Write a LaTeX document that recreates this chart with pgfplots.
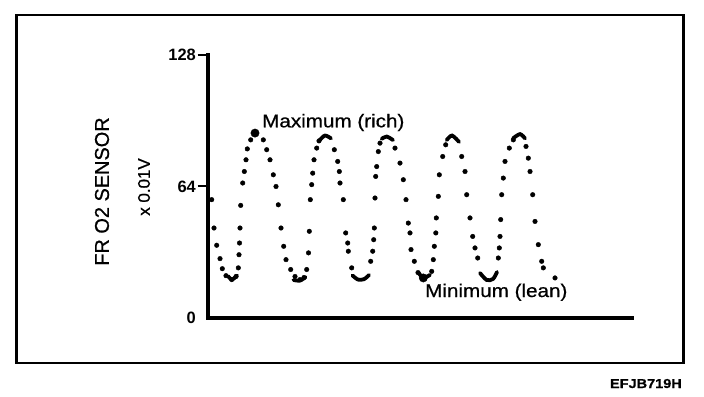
\documentclass[border=0pt]{standalone}
\usepackage{fontspec}
\setmainfont{Liberation Sans}
\newfontfamily\widefont[FakeStretch=1.12, FakeBold=0.8]{Liberation Sans}
\newfontfamily\heavyfont[FakeBold=0.8]{Liberation Sans}
\usepackage{pgfplots}
\pgfplotsset{compat=1.18}
\begin{document}
\begin{tikzpicture}[x=1bp,y=1bp]
\path (0,0) rectangle (704,396);
\draw[line width=2.5bp] (16.5,381) rectangle (683.5,33);
\begin{axis}[
  at={(207.5bp,78bp)}, anchor=south west,
  scale only axis, width=424.5bp, height=263bp,
  xmin=0, xmax=424.5, ymin=0, ymax=128,
  axis lines*=left,
  axis line style={line width=4bp, line cap=rect, -},
  xtick=\empty,
  ytick={64,128},
  extra y ticks={0},
  extra y tick style={major tick length=0pt, yticklabel style={xshift=-10bp}},
  tick align=outside, major tick length=10bp,
  ytick pos=left,
  tick style={line width=2bp, black},
  yticklabel style={font=\bfseries\fontsize{16.5}{16.5}\selectfont, inner sep=1.5bp},
  /pgf/number format/assume math mode=true,
  clip=false,
]
% dotted trace
\addplot[only marks, mark=*, mark size=2.3bp, black] coordinates {
(4.2,57.6) (6.5,43.8) (9.2,35.4) (12.5,28.9) (14.8,24.0) (18.5,20.6) (24.2,18.7)
(28.5,20.2) (30.8,24.4) (31.5,30.8) (32.0,36.5) (32.5,43.8) (33.2,54.8) (35.2,65.7)
(36.8,71.3) (38.5,77.0) (39.8,82.3) (43.2,86.7)
(55.8,86.7) (59.2,81.9) (62.5,77.0) (65.8,69.7) (68.5,64.0) (70.8,55.1) (73.5,43.8)
(76.2,34.9) (78.5,28.4) (83.2,23.6) (87.5,20.2) (92.5,18.7) (96.5,19.7)
(99.2,23.6) (101.0,31.7) (101.8,42.2) (102.8,57.6) (104.2,64.9) (105.2,70.5)
(106.5,77.0) (109.2,82.7) (111.5,86.2)
(126.8,81.9) (130.2,76.2) (131.8,71.3) (132.5,65.7) (135.8,57.6) (138.2,41.4)
(140.2,36.5) (140.8,32.5) (144.2,24.4)
(163.2,27.6) (165.2,32.5) (166.2,38.1) (166.8,43.8) (167.5,58.4) (168.2,68.9)
(169.2,73.7) (170.8,81.0) (172.5,85.1)
(187.5,82.7) (192.5,75.4) (195.8,67.3) (198.5,57.6) (200.8,46.2) (202.5,41.4)
(203.5,33.3) (206.8,27.6) (210.5,22.1)
(224.2,22.7) (225.8,28.4) (226.8,34.9) (228.3,41.4) (228.8,48.7) (230.8,59.2)
(231.8,69.7) (235.2,78.6) (238.2,84.3)
(254.2,78.6) (257.5,71.3) (259.2,60.0) (262.5,48.7) (265.2,39.7) (267.5,34.1)
(270.2,29.2)
(290.8,29.2) (291.8,34.1) (292.5,39.7) (293.2,47.9) (294.2,60.0) (295.8,68.1)
(297.5,76.2) (301.8,82.7) (305.8,86.7)
(318.5,83.5) (320.8,77.8) (322.5,71.3) (325.2,60.0) (327.5,47.0) (330.8,35.7)
(334.2,27.6) (335.8,24.4) (347.5,19.5)
};
% short thick arcs at the turning points
\addplot[line width=3.8bp, smooth, line cap=round, black] coordinates {(20.5,20.4) (24.5,18.7) (29.5,20.7)};
\addplot[line width=3.8bp, smooth, line cap=round, black] coordinates {(86,18.5) (92.5,18.2) (98,19.9)};
\addplot[line width=3.8bp, smooth, line cap=round, black] coordinates {(145,20.7) (150.5,18.7) (156.5,18.9) (161.5,20.9)};
\addplot[line width=3.8bp, smooth, line cap=round, black] coordinates {(211,22.1) (215.8,19.5) (222.5,21.0)};
\addplot[line width=3.8bp, smooth, line cap=round, black] coordinates {(272.5,21.9) (279.2,18.5) (285.5,19.0) (289.5,22.4)};
\addplot[line width=3.8bp, smooth, line cap=round, black] coordinates {(112.5,86.7) (117.5,88.8) (123.5,87.4)};
\addplot[line width=3.8bp, smooth, line cap=round, black] coordinates {(174.2,87.2) (179.2,88.3) (185.5,86.6)};
\addplot[line width=3.8bp, smooth, line cap=round, black] coordinates {(239.2,86.6) (244.5,88.8) (251.5,85.7)};
\addplot[line width=3.8bp, smooth, line cap=round, black] coordinates {(305.5,87.4) (312.5,89.5) (317.5,87.4)};
% maximum and minimum markers
\addplot[only marks, mark=*, mark size=4.2bp, black] coordinates {(47.5,90.0) (215.8,19.5)};
\end{axis}
\node[anchor=base west, inner sep=0pt, font=\widefont\fontsize{18.5}{20}\selectfont] at (262,268.7) {Maximum (rich)};
\node[anchor=base west, inner sep=0pt, font=\widefont\fontsize{18.5}{20}\selectfont] at (425,99) {Minimum (lean)};
\node[rotate=90, inner sep=0pt, font=\heavyfont\fontsize{20}{22}\selectfont] at (102,204.5) {FR O2 SENSOR};
\node[rotate=90, inner sep=0pt, font=\heavyfont\fontsize{17}{19}\selectfont] at (144,209) {x 0.01V};
\node[anchor=base east, inner sep=0pt, font=\widefont\bfseries\fontsize{13}{14}\selectfont] at (682,8) {EFJB719H};
\end{tikzpicture}
\end{document}
